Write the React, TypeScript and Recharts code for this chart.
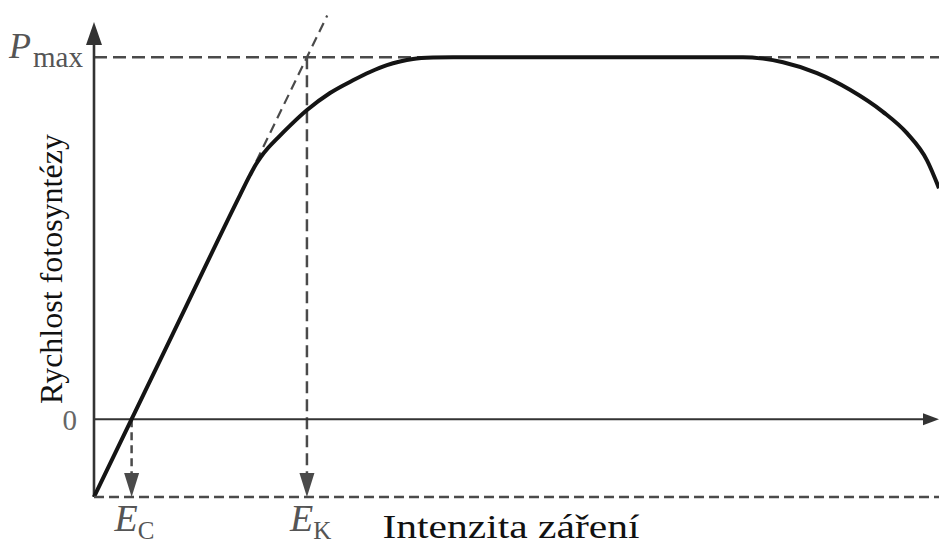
import { LineChart, Line, XAxis, YAxis, ReferenceLine } from 'recharts';

// light response curve
const INTENSITY = [
  0, 4.45, 10, 17.28, 18.46, 19.17, 19.76, 20.59, 21.78, 23.2, 25.21, 27.93, 30.65, 32.66, 34.67, 36.21,
  37.75, 40.12, 42.5, 50, 60, 70, 76.8, 79.17, 81.54, 85.56, 89.47, 93.37, 96.21, 98.58, 100,
];
const RATE = [
  -21.5, 0, 26.8, 61.9, 67.4, 70.4, 72.5, 74.9, 77.8, 81.1, 85.4, 90.1, 93.6, 95.9, 97.8, 98.8,
  99.5, 99.9, 100, 100, 100, 100, 100, 99.6, 98.6, 95.6, 91, 84.9, 79, 71.5, 63.8,
];

const E_C = 4.45;
const E_K = 25.2;
const P_MAX = 100;
const BOTTOM = -21.5;
const Y_TOP = 112.2;
const Y_ARROW = 109.7;
const X_TICKS = [E_C, E_K];
const X_SUBS = ['C', 'K'];
const Y_TICKS = [0, P_MAX];
const TANGENT_X = [19.2, 27.6];
const TANGENT_Y = [71.2, 111.5];

const data = INTENSITY.map((x, i) => ({ x, rate: RATE[i] }));

const FONT = '"Liberation Serif", "Times New Roman", serif';
const AXIS = '#333';
const DASH = '#4a4a4a';

function arrowShape(stroke: string, width: number, dash?: string, head?: { len: number; half: number }) {
  return (p: any) => {
    const { x1, y1, x2, y2 } = p;
    const dx = x2 - x1;
    const dy = y2 - y1;
    const d = Math.hypot(dx, dy) || 1;
    const ux = dx / d;
    const uy = dy / d;
    let end = { x: x2, y: y2 };
    let poly = null;
    if (head) {
      const bx = x2 - ux * head.len;
      const by = y2 - uy * head.len;
      end = { x: bx, y: by };
      const pts = [
        `${x2},${y2}`,
        `${bx - uy * head.half},${by + ux * head.half}`,
        `${bx + uy * head.half},${by - ux * head.half}`,
      ].join(' ');
      poly = <polygon points={pts} fill={stroke} />;
    }
    return (
      <g>
        <line x1={x1} y1={y1} x2={end.x} y2={end.y} stroke={stroke} strokeWidth={width} strokeDasharray={dash} />
        {poly}
      </g>
    );
  };
}

const YTick = ({ x, y, payload }: any) => {
  if (payload.value === 0) {
    return (
      <text x={x - 17} y={y + 11} textAnchor="end" fontFamily={FONT} fontSize={29} fill="#666">
        0
      </text>
    );
  }
  return (
    <g fontFamily={FONT} fill="#555">
      <text x={x - 85} y={y + 1} fontSize={36} fontStyle="italic">P</text>
      <text x={x - 61} y={y + 10} fontSize={29}>max</text>
    </g>
  );
};

const XTick = ({ x, y, index }: any) => (
  <text x={x - 17} y={y + 34} fontFamily={FONT} fill="#555">
    <tspan fontSize={38} fontStyle="italic">E</tspan>
    <tspan fontSize={25} dx={0} dy={8}>{X_SUBS[index]}</tspan>
  </text>
);

export default function App() {
  return (
    <div style={{ position: 'absolute', left: 0, top: 0, background: '#fff' }}>
      <LineChart width={939} height={544} data={data} margin={{ top: 13, right: 0, left: 0, bottom: 0 }}>
        <XAxis
          dataKey="x"
          type="number"
          domain={[0, 100]}
          ticks={X_TICKS}
          tick={<XTick />}
          tickLine={false}
          tickSize={0}
          tickMargin={0}
          height={47}
          axisLine={{ stroke: DASH, strokeWidth: 2.5, strokeDasharray: '10 5' }}
          label={{
            content: () => (
              <text x={511} y={538} textAnchor="middle" fontFamily={FONT} fontSize={34} fill="#111" textLength={257} lengthAdjust="spacingAndGlyphs">
                Intenzita záření
              </text>
            ),
          }}
        />
        <YAxis
          type="number"
          domain={[BOTTOM, Y_TOP]}
          ticks={Y_TICKS}
          tick={<YTick />}
          tickLine={false}
          tickSize={0}
          tickMargin={0}
          axisLine={false}
          width={94}
          label={{
            content: () => (
              <text x={62} y={269} transform="rotate(-90 62 269)" textAnchor="middle" fontFamily={FONT} fontSize={32} fill="#111">
                Rychlost fotosyntézy
              </text>
            ),
          }}
        />
        <ReferenceLine
          segment={[{ x: 0, y: P_MAX }, { x: 100, y: P_MAX }]}
          shape={arrowShape(DASH, 2.5, '13 6')}
        />
        <ReferenceLine
          segment={[{ x: E_K, y: P_MAX }, { x: E_K, y: BOTTOM }]}
          shape={arrowShape(DASH, 2.5, '12 6', { len: 24, half: 7.5 })}
        />
        <ReferenceLine
          segment={[{ x: E_C, y: 0 }, { x: E_C, y: BOTTOM }]}
          shape={arrowShape(DASH, 2.5, '8 5', { len: 24, half: 7.5 })}
        />
        <ReferenceLine
          segment={[{ x: TANGENT_X[0], y: TANGENT_Y[0] }, { x: TANGENT_X[1], y: TANGENT_Y[1] }]}
          shape={arrowShape(DASH, 2.2, '10 6')}
        />
        <ReferenceLine
          segment={[{ x: 0, y: 0 }, { x: 100, y: 0 }]}
          shape={arrowShape(AXIS, 2, undefined, { len: 16, half: 6 })}
        />
        <ReferenceLine
          segment={[{ x: 0, y: BOTTOM }, { x: 0, y: Y_ARROW }]}
          shape={arrowShape(AXIS, 2.6, undefined, { len: 23, half: 8 })}
        />
        <Line
          dataKey="rate"
          type="monotone"
          stroke="#141414"
          strokeWidth={4}
          dot={false}
          activeDot={false}
          isAnimationActive={false}
        />
      </LineChart>
    </div>
  );
}
